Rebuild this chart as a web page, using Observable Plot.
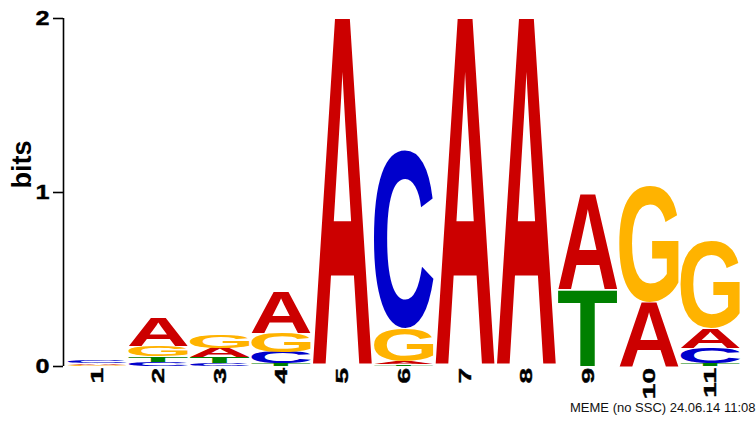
<!DOCTYPE html>
<html><head><meta charset="utf-8">
<script src="https://cdn.jsdelivr.net/npm/d3@7"></script>
<script src="https://cdn.jsdelivr.net/npm/@observablehq/plot@0.6"></script>
<style>
body{margin:0;background:#fff}
#chart svg g[aria-label="y-axis tick label"] text, #chart svg g[aria-label="x-axis tick label"] text{font-weight:bold}
</style>
</head><body><div id="chart"></div>
<script>
const positions = [1, 2, 3, 4, 5, 6, 7, 8, 9, 10, 11];
const bases = ["A", "C", "G", "T"];
const baseColors = ["#CC0000", "#0000CC", "#FFB300", "#008000"];
const bitsA = [0.010, 0.165, 0.055, 0.24, 2.0, 0.015, 2.0, 2.0, 0.55, 0.37, 0.11];
const bitsC = [0.012, 0.025, 0.015, 0.065, 0, 1.02, 0, 0, 0, 0, 0.09];
const bitsG = [0.003, 0.06, 0.075, 0.11, 0, 0.19, 0, 0, 0, 0.67, 0.50];
const bitsT = [0.002, 0.03, 0.035, 0.015, 0, 0.01, 0, 0, 0.44, 0, 0.015];
const yTicks = [0, 1, 2];
const yLabel = "bits";
const captionText = "MEME (no SSC) 24.06.14 11:08";

// ---- stacked cells (smallest at bottom) ----
const series = [bitsA, bitsC, bitsG, bitsT];
const cells = [];
positions.forEach((p, i) => {
  const col = bases.map((b, j) => ({pos: p, base: b, color: baseColors[j], bits: series[j][i]}))
    .filter(d => d.bits > 0)
    .sort((a, b) => a.bits - b.bits);
  let acc = 0;
  for (const d of col) { d.y1 = acc; acc += d.bits; d.y2 = acc; cells.push(d); }
});

// glyph ink metrics
const FONT_PX = 200;
const FONT_FAMILY = "'Liberation Sans', Arial, Helvetica, sans-serif";
const ctx = document.createElement("canvas").getContext("2d");
ctx.font = `bold ${FONT_PX}px ${FONT_FAMILY}`;
const metrics = {};
for (const b of bases) {
  const m = ctx.measureText(b);
  metrics[b] = {L: m.actualBoundingBoxLeft, R: m.actualBoundingBoxRight, A: m.actualBoundingBoxAscent, D: m.actualBoundingBoxDescent};
}

const ns = "http://www.w3.org/2000/svg";
function logoMark(index, scales) {
  const g = document.createElementNS(ns, "g");
  g.setAttribute("aria-label", "logo letters");
  for (const c of cells) {
    const x0 = scales.x(c.pos - 0.485), x1 = scales.x(c.pos + 0.485);
    const yt = scales.y(c.y2), yb = scales.y(c.y1);
    const m = metrics[c.base];
    const sx = (x1 - x0) / (m.L + m.R);
    const sy = (yb - yt) / (m.A + m.D);
    const t = document.createElementNS(ns, "text");
    t.textContent = c.base;
    t.setAttribute("x", 0); t.setAttribute("y", 0);
    t.setAttribute("fill", c.color);
    t.setAttribute("font-family", FONT_FAMILY);
    t.setAttribute("font-weight", "bold");
    t.setAttribute("font-size", FONT_PX);
    t.setAttribute("text-anchor", "start");
    t.setAttribute("transform", `translate(${x0 + m.L * sx},${yb - m.D * sy}) scale(${sx},${sy})`);
    g.appendChild(t);
  }
  return g;
}

const chart = Plot.plot({
  width: 756, height: 421,
  marginLeft: 63, marginRight: 15, marginTop: 18, marginBottom: 55,
  x: {domain: [0.445, 11.5]},
  y: {domain: [0, 2]},
  style: {fontFamily: FONT_FAMILY, background: "#fff", color: "#000", overflow: "visible"},
  marks: [
    Plot.ruleX([0.445], {y1: 0, y2: 2, stroke: "black", strokeWidth: 1.6}),
    Plot.axisY({ticks: yTicks, tickFormat: d => String(d), tickSize: 10, tickPadding: 4, fontSize: 21, fontWeight: "bold", strokeWidth: 1.6, label: null}),
    Plot.axisX({ticks: positions, tickFormat: d => String(d), tickSize: 0, tickPadding: 1.5, tickRotate: -90, fontSize: 17, fontWeight: "bold", label: null}),
    logoMark,
    Plot.text([yLabel], {text: d => d, frameAnchor: "left", rotate: -90, dx: -41, dy: -4, fontSize: 27, fontWeight: "bold"}),
    Plot.text([captionText], {text: d => d, frameAnchor: "bottom-right", dx: 14, dy: 45, textAnchor: "end", fontSize: 13, fill: "#111"})
  ]
});
document.getElementById("chart").appendChild(chart);

// widen the tick-label glyphs along their reading direction, as in the reference
function stretch(sel, s) {
  chart.querySelectorAll(sel).forEach(t => {
    const x = +t.getAttribute("x") || 0, y = +t.getAttribute("y") || 0;
    const tr = t.getAttribute("transform") || "";
    t.setAttribute("transform", `${tr} translate(${x},${y}) scale(${s},1) translate(${-x},${-y})`);
    t.setAttribute("stroke", "currentColor");
    t.setAttribute("stroke-width", 0.4);
  });
}
stretch('g[aria-label="x-axis tick label"] text', 1.65);
stretch('g[aria-label="y-axis tick label"] text', 1.2);
</script>
</body></html>
